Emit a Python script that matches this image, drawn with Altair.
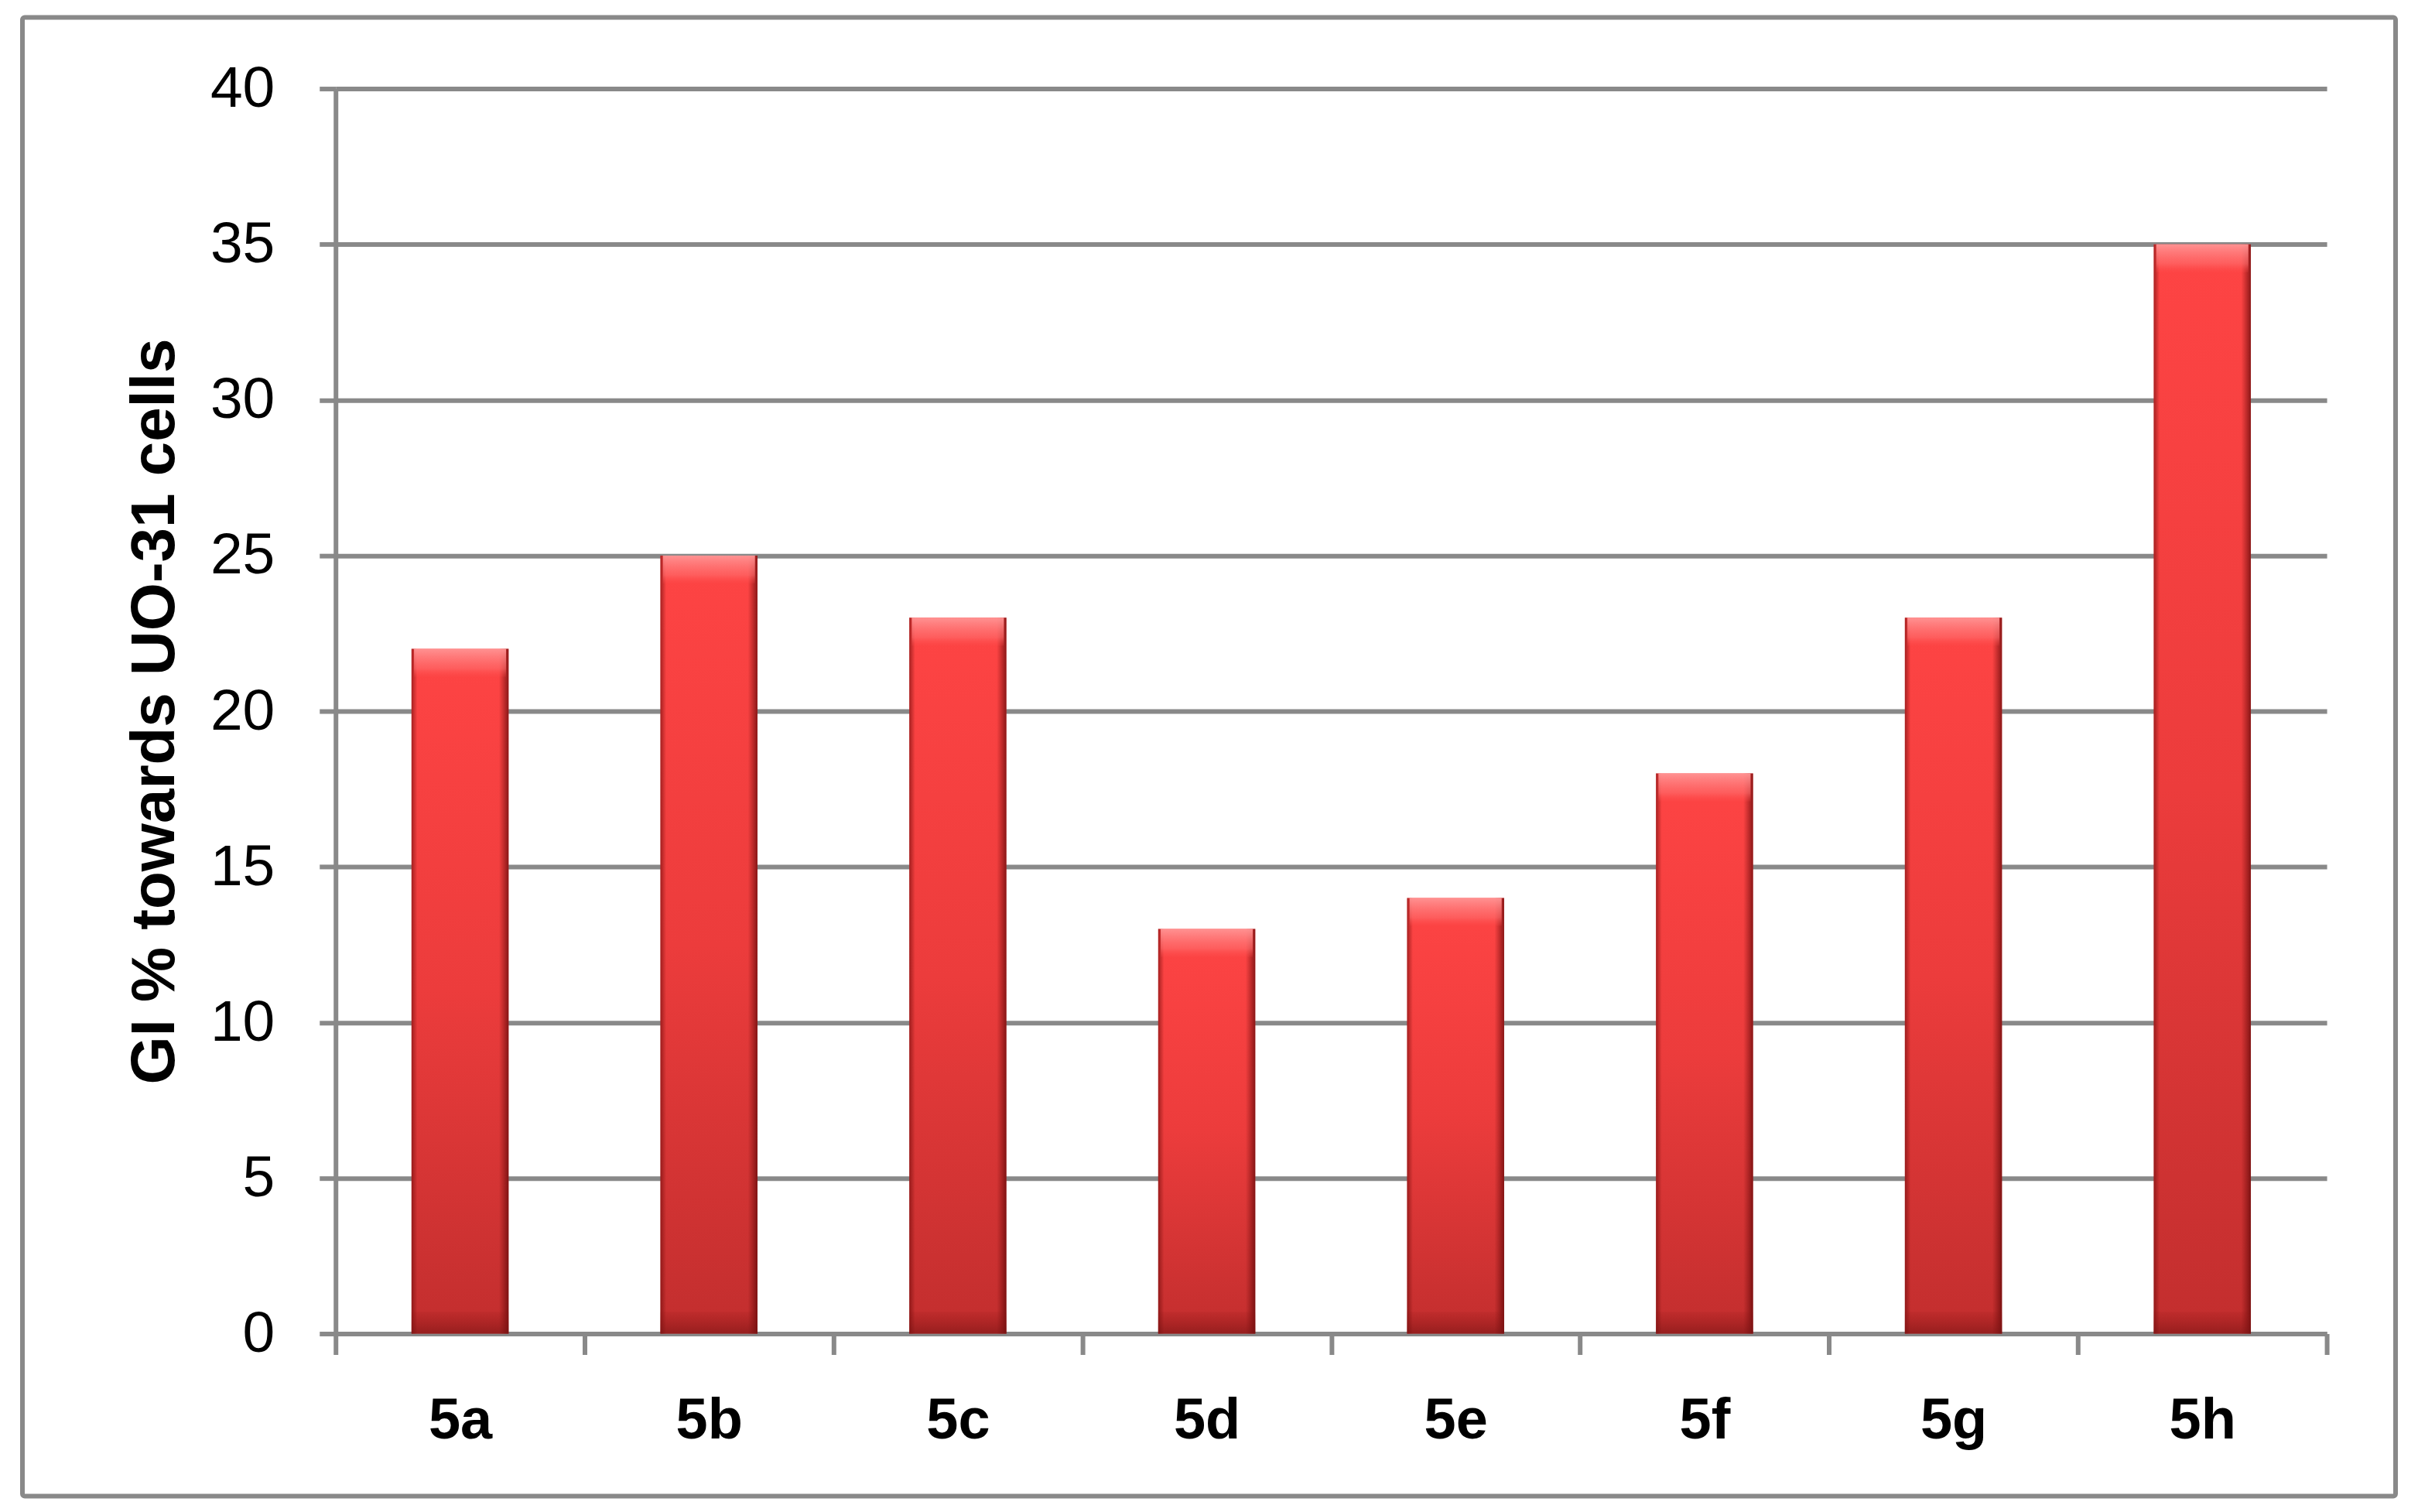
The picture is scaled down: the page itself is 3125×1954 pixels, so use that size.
import altair as alt
import pandas as pd

categories = ["5a", "5b", "5c", "5d", "5e", "5f", "5g", "5h"]
values = [22, 25, 23, 13, 14, 18, 23, 35]
y_ticks = [0, 5, 10, 15, 20, 25, 30, 35, 40]
y_title = "GI % towards UO-31 cells"

df = pd.DataFrame({"compound": categories, "gi": values})

W, H = 2575, 1610
FONT = "Liberation Sans"
GRAY = "#898989"

x_enc = alt.X(
    "compound:N",
    sort=categories,
    scale=alt.Scale(paddingInner=0, paddingOuter=0),
    axis=alt.Axis(
        title=None, labelFont=FONT, labelFontSize=74, labelFontWeight="bold",
        labelColor="black", labelAngle=0, labelPadding=50, tickBand="extent",
        ticks=True, tickSize=27, tickWidth=6, tickColor=GRAY,
        domain=True, domainColor=GRAY, domainWidth=6, grid=False,
    ),
)

y_axis = alt.Axis(
    title=y_title, values=y_ticks, labelFont=FONT, labelFontSize=75,
    labelColor="black", labelPadding=58, ticks=True, tickSize=21, tickWidth=6,
    tickColor=GRAY, domain=True, domainColor=GRAY, domainWidth=6,
    grid=True, gridColor=GRAY, gridWidth=6,
    titleFont=FONT, titleFontSize=80, titleFontWeight="bold", titleColor="black",
    titleAngle=-90, titleX=-209, titleY=H / 2, titleAlign="center",
    titleBaseline="alphabetic",
)
y_scale = alt.Scale(domain=[0, 40], nice=False)

base = alt.Chart(df)
bw = alt.RelativeBandSize(0.39)

main_grad = alt.Gradient(
    gradient="linear", x1=0, x2=0, y1=0, y2=1,
    stops=[
        alt.GradientStop(offset=0, color="#FE4444"),
        alt.GradientStop(offset=0.5, color="#EC3C3C"),
        alt.GradientStop(offset=1, color="#C22E2E"),
    ],
)
edge_grad = alt.Gradient(
    gradient="linear", x1=0, x2=1, y1=0, y2=0,
    stops=[
        alt.GradientStop(offset=0, color="rgba(110,10,10,0.6)"),
        alt.GradientStop(offset=0.06, color="rgba(110,10,10,0)"),
        alt.GradientStop(offset=0.9, color="rgba(110,10,10,0)"),
        alt.GradientStop(offset=1, color="rgba(90,5,5,0.7)"),
    ],
)
top_grad = alt.Gradient(
    gradient="linear", x1=0, x2=0, y1=0, y2=1,
    stops=[
        alt.GradientStop(offset=0, color="rgba(255,150,150,0.95)"),
        alt.GradientStop(offset=0.7, color="rgba(255,110,110,0.6)"),
        alt.GradientStop(offset=1, color="rgba(255,80,80,0.1)"),
    ],
)
bot_grad = alt.Gradient(
    gradient="linear", x1=0, x2=0, y1=0, y2=1,
    stops=[
        alt.GradientStop(offset=0, color="rgba(140,20,20,0.1)"),
        alt.GradientStop(offset=1, color="rgba(120,20,20,0.6)"),
    ],
)

bars = base.mark_bar(fill=main_grad, width=bw).encode(
    x=x_enc, y=alt.Y("gi:Q", scale=y_scale, axis=y_axis)
)
edges = base.mark_bar(fill=edge_grad, width=bw).encode(
    x=x_enc, y=alt.Y("gi:Q", scale=y_scale, axis=y_axis)
)
top_bevel = base.transform_calculate(lo="datum.gi - 0.9").mark_bar(
    fill=top_grad, width=alt.RelativeBandSize(0.37)
).encode(
    x=x_enc, y=alt.Y("gi:Q", scale=y_scale, axis=y_axis), y2="lo:Q"
)
bot_bevel = base.transform_calculate(hi="0.7", z="0").mark_bar(
    fill=bot_grad, width=bw
).encode(
    x=x_enc, y=alt.Y("hi:Q", scale=y_scale, axis=y_axis), y2="z:Q"
)

frame = alt.Chart(pd.DataFrame({"f": [0]})).mark_rect(
    fill="transparent", stroke=GRAY, strokeWidth=6, cornerRadius=3
).encode(
    x=alt.value(-405), x2=alt.value(2664), y=alt.value(-92), y2=alt.value(1820)
)

chart = alt.layer(bars, edges, top_bevel, bot_bevel, frame).properties(
    width=W, height=H,
    autosize=alt.AutoSizeParams(type="none"),
    padding={"left": 426, "top": 106, "right": 110, "bottom": 222},
    background="white",
).configure_view(stroke="transparent")

chart.save("out.html", embed_options={"renderer": "svg", "actions": False})
